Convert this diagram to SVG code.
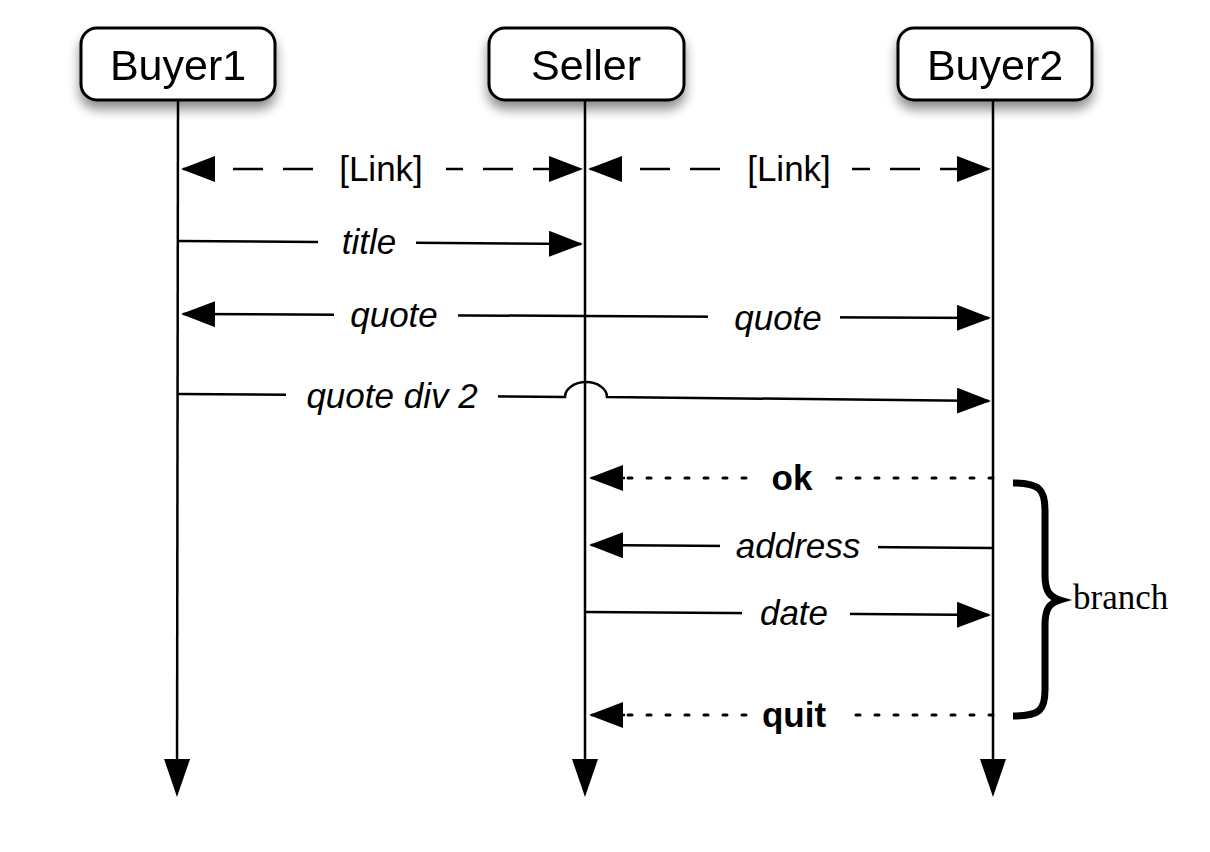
<svg xmlns="http://www.w3.org/2000/svg" width="1210" height="852" viewBox="0 0 1210 852">
<defs>
<filter id="sh" x="-30%" y="-30%" width="160%" height="180%">
<feGaussianBlur in="SourceAlpha" stdDeviation="6"/>
<feOffset dx="0" dy="8" result="b"/>
<feComponentTransfer><feFuncA type="linear" slope="0.45"/></feComponentTransfer>
<feMerge><feMergeNode/><feMergeNode in="SourceGraphic"/></feMerge>
</filter>
<marker id="ah" markerWidth="36" markerHeight="26" refX="32" refY="13" orient="auto-start-reverse" markerUnits="userSpaceOnUse">
<path d="M0,0 L34,13 L0,26 Z" fill="#000"/>
</marker>
<marker id="ahd" markerWidth="40" markerHeight="28" refX="31" refY="13" orient="auto" markerUnits="userSpaceOnUse">
<path d="M0,0 L38,13 L0,26 Z" fill="#000"/>
</marker>
</defs>
<style>
.box{fill:#fff;stroke:#000;stroke-width:3}
.life{stroke:#000;stroke-width:2.5;fill:none}
.msg{stroke:#000;stroke-width:2.5;fill:none}
.dash{stroke-dasharray:30 20}
.dot{stroke-dasharray:4 15;stroke-linecap:round;stroke-width:3}
.nt{font-family:"Liberation Sans",Arial,sans-serif;font-size:43px;text-anchor:middle}
.lb{font-family:"Liberation Sans",Arial,sans-serif;font-size:35px;text-anchor:middle;font-style:italic}
.lk{font-family:"Liberation Sans",Arial,sans-serif;font-size:35px;text-anchor:middle}
.bd{font-family:"Liberation Sans",Arial,sans-serif;font-size:35px;text-anchor:middle;font-weight:bold}
.bg{fill:#fff}
</style>
<rect width="1210" height="852" fill="#fff"/>
<g id="lifelines">
<line class="life" x1="178" y1="100" x2="177" y2="790" marker-end="url(#ahd)"/>
<line class="life" x1="585" y1="100" x2="585" y2="790" marker-end="url(#ahd)"/>
<line class="life" x1="993" y1="100" x2="993" y2="790" marker-end="url(#ahd)"/>
</g>
<g id="node-buyer1" filter="url(#sh)">
<rect class="box" x="81" y="28" width="194" height="72" rx="16"/>
<text class="nt" x="178" y="80">Buyer1</text>
</g>
<g id="node-seller" filter="url(#sh)">
<rect class="box" x="489" y="28" width="195" height="72" rx="16"/>
<text class="nt" x="586" y="80">Seller</text>
</g>
<g id="node-buyer2" filter="url(#sh)">
<rect class="box" x="898" y="28" width="194" height="72" rx="16"/>
<text class="nt" x="995" y="80">Buyer2</text>
</g>
<g id="connectors">
<line class="msg dash" x1="183" y1="169" x2="581" y2="169" marker-start="url(#ah)" marker-end="url(#ah)"/>
<line class="msg dash" x1="590" y1="169" x2="989" y2="169" marker-start="url(#ah)" marker-end="url(#ah)"/>
<line class="msg" x1="178" y1="241" x2="581" y2="244" marker-end="url(#ah)"/>
<line class="msg" x1="585" y1="316" x2="183" y2="314" marker-end="url(#ah)"/>
<line class="msg" x1="585" y1="316" x2="989" y2="318" marker-end="url(#ah)"/>
<path class="msg" d="M178,394 L565,397 A21,15 0 0 1 607,397 L989,401" marker-end="url(#ah)"/>
<line class="msg dot" x1="993" y1="478" x2="625" y2="478"/>
<line class="msg" x1="625" y1="478" x2="591" y2="478" marker-end="url(#ah)"/>
<line class="msg" x1="993" y1="548" x2="591" y2="545" marker-end="url(#ah)"/>
<line class="msg" x1="585" y1="612" x2="989" y2="615" marker-end="url(#ah)"/>
<line class="msg dot" x1="993" y1="715" x2="625" y2="715"/>
<line class="msg" x1="625" y1="715" x2="591" y2="715" marker-end="url(#ah)"/>
</g>
<g id="labels">
<rect class="bg" x="324" y="150" width="122" height="38"/>
<text class="lk" x="381" y="181">[Link]</text>
<rect class="bg" x="732" y="150" width="120" height="38"/>
<text class="lk" x="789" y="181">[Link]</text>
<rect class="bg" x="318" y="224" width="98" height="38"/>
<text class="lb" x="369" y="254">title</text>
<rect class="bg" x="334" y="296" width="124" height="38"/>
<text class="lb" x="394" y="327">quote</text>
<rect class="bg" x="708" y="299" width="132" height="38"/>
<text class="lb" x="778" y="330">quote</text>
<rect class="bg" x="286" y="377" width="212" height="38"/>
<text class="lb" x="392" y="408">quote div 2</text>
<rect class="bg" x="748" y="459" width="84" height="38"/>
<text class="bd" x="792" y="490">ok</text>
<rect class="bg" x="720" y="527" width="158" height="38"/>
<text class="lb" x="798" y="558">address</text>
<rect class="bg" x="742" y="594" width="108" height="38"/>
<text class="lb" x="794" y="625">date</text>
<rect class="bg" x="748" y="696" width="100" height="38"/>
<text class="bd" x="794" y="727">quit</text>
</g>
<g id="branch">
<path d="M1013,483 C1040,483 1045,490 1045,510 L1045,575 C1045,592 1050,597 1060,600 C1050,603 1045,608 1045,625 L1045,690 C1045,710 1040,716 1013,716" fill="none" stroke="#000" stroke-width="7"/>
<text x="1073" y="609" font-family="'Liberation Serif','Times New Roman',serif" font-size="35">branch</text>
</g>
</svg>
